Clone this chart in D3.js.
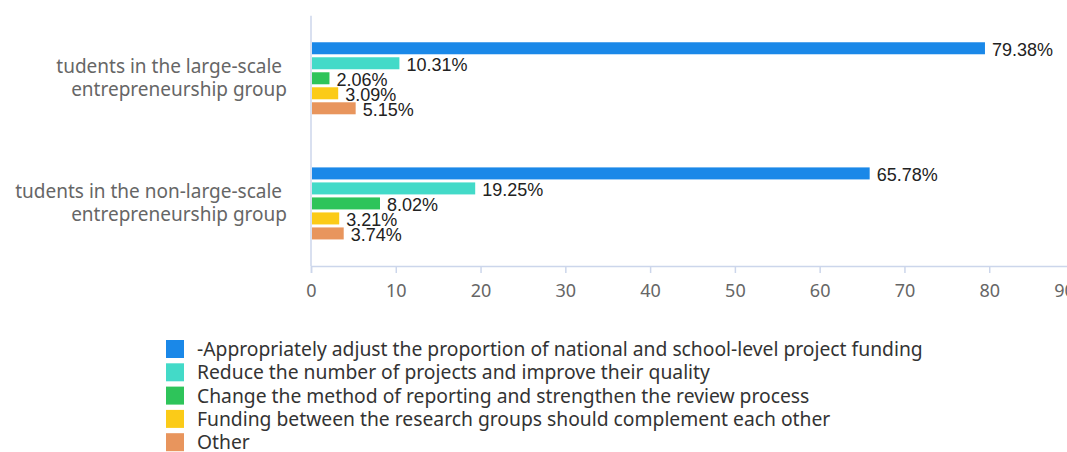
<!DOCTYPE html>
<html>
<head>
<meta charset="utf-8">
<script src="https://cdn.jsdelivr.net/npm/d3@7/dist/d3.min.js"></script>
<style>
  html, body { margin: 0; padding: 0; background: #fff; }
  svg { display: block; }
</style>
</head>
<body>
<svg id="chart" width="1067" height="452"></svg>
<script>
// Groups of respondents (y axis)
const categories = [
  ["tudents in the large-scale ", "entrepreneurship group"],
  ["tudents in the non-large-scale ", "entrepreneurship group"]
];
// Suggestions (series)
const seriesNames = [
  "-Appropriately adjust the proportion of national and school-level project funding",
  "Reduce the number of projects and improve their quality",
  "Change the method of reporting and strengthen the review process",
  "Funding between the research groups should complement each other",
  "Other"
];
// Percentage per series, one value per group
const seriesValues = [
  [79.38, 65.78],
  [10.31, 19.25],
  [2.06, 8.02],
  [3.09, 3.21],
  [5.15, 3.74]
];
const xTicks = [0, 10, 20, 30, 40, 50, 60, 70, 80, 90];
const colors = ["#1a88e8", "#43dac8", "#2ec45a", "#fbcb18", "#e8955d"];

(function draw() {
  const svg = d3.select("#chart");
  const plotLeft = 311, plotRight = 1074, plotTop = 15.7, plotBottom = 266;
  const uiFont = "'Noto Sans', 'Open Sans', sans-serif";

  const x = d3.scaleLinear().domain([0, 90]).range([plotLeft, plotRight]);
  const y = d3.scaleBand().domain(d3.range(categories.length)).range([plotTop, plotBottom]);
  const inner = d3.scaleBand().domain(d3.range(seriesNames.length))
    .range([0, y.bandwidth()]).paddingInner(0.2).paddingOuter(1.77);

  // x axis
  const xAxis = d3.axisBottom(x).tickValues(xTicks).tickSize(7).tickPadding(11).tickFormat(d3.format("d"));
  const gx = svg.append("g").attr("transform", `translate(0,${plotBottom})`).call(xAxis);
  gx.select(".domain").attr("stroke", "#ccd6eb").attr("stroke-width", 1.5);
  gx.selectAll(".tick line").attr("stroke", "#ccd6eb").attr("stroke-width", 1.5);
  gx.selectAll(".tick text").attr("fill", "#666").style("font-family", uiFont).style("font-size", "18px");
  // last label sits nudged inward at the right edge
  gx.selectAll(".tick text").filter(d => d === xTicks[xTicks.length - 1]).attr("dx", -10);

  // y axis line
  svg.append("line").attr("x1", plotLeft).attr("x2", plotLeft).attr("y1", plotTop).attr("y2", plotBottom)
    .attr("stroke", "#ccd6eb").attr("stroke-width", 1.5);

  // category labels
  categories.forEach((lines, i) => {
    const cy = y(i) + y.bandwidth() / 2;
    const t = svg.append("text").attr("text-anchor", "end")
      .attr("fill", "#666").style("font-family", uiFont).style("font-size", "19px");
    lines.forEach((ln, j) => {
      t.append("tspan").attr("x", 287).attr("y", cy - 5 + j * 23).attr("xml:space", "preserve").text(ln);
    });
  });

  // bars and value labels
  seriesValues.forEach((vals, s) => {
    vals.forEach((v, i) => {
      const by = y(i) + inner(s);
      svg.append("rect").attr("x", x(0) + 1).attr("y", by)
        .attr("width", x(v) - x(0)).attr("height", inner.bandwidth())
        .attr("fill", colors[s]);
      svg.append("text").attr("x", x(v) + 8).attr("y", by + inner.bandwidth() / 2 + 8)
        .attr("fill", "#222").style("font-family", "'Liberation Sans', Arial, sans-serif").style("font-size", "18px")
        .text(v.toFixed(2) + "%");
    });
  });

  // legend
  const legend = svg.append("g");
  seriesNames.forEach((name, s) => {
    const ly = 340 + s * 23.3;
    legend.append("rect").attr("x", 166).attr("y", ly).attr("width", 18).attr("height", 18).attr("fill", colors[s]);
    legend.append("text").attr("x", 197).attr("y", ly + 16)
      .attr("fill", "#333").style("font-family", uiFont).style("font-size", "19.3px")
      .text(name);
  });
})();
</script>
</body>
</html>
